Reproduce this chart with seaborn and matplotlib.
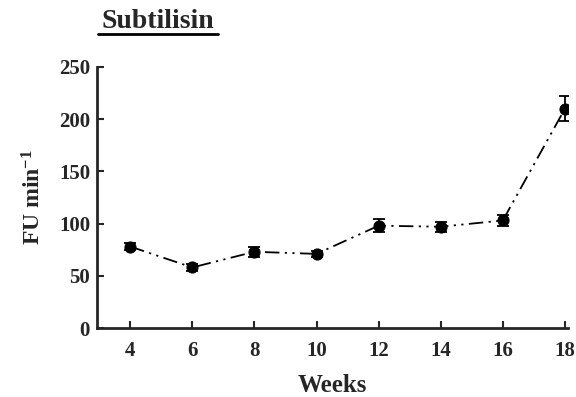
import numpy as np
import pandas as pd
import seaborn as sns
import matplotlib.pyplot as plt

# Data
weeks = [4, 6, 8, 10, 12, 14, 16, 18]
activity = [78, 58, 73, 71, 98, 97, 103, 210]
error = [3, 3, 5, 3, 6, 5, 5, 12]

df = pd.DataFrame({'Weeks': weeks, 'FU': activity, 'err': error})

sns.set_style('ticks')
plt.rcParams['font.family'] = ['Liberation Serif', 'DejaVu Serif']
plt.rcParams['font.weight'] = 'bold'
plt.rcParams['mathtext.fontset'] = 'custom'
plt.rcParams['mathtext.rm'] = 'Liberation Serif:bold'
plt.rcParams['mathtext.bf'] = 'Liberation Serif:bold'
plt.rcParams['mathtext.default'] = 'bf'

fig = plt.figure(figsize=(5.76, 3.97), dpi=100)
ax = fig.add_axes([97 / 576, 1 - 328 / 397, (568 - 97) / 576, (328 - 67) / 397])

sns.lineplot(x='Weeks', y='FU', data=df, ax=ax, color='black',
             linewidth=1.3, marker='o', markersize=8,
             markeredgecolor='black', dashes=False)
ax.lines[0].set_dashes([8, 3, 1.2, 3, 1.2, 3])
ax.errorbar(df['Weeks'], df['FU'], yerr=df['err'], fmt='none',
            ecolor='black', elinewidth=1.3, capsize=4, capthick=1.3)

ax.set_xlim(2.93, 18.1)
ax.set_ylim(0, 250)
ax.set_xticks(weeks)
ax.set_yticks([0, 50, 100, 150, 200, 250])
ax.tick_params(direction='in', length=5, width=1.5, labelsize=15)
ax.tick_params(axis='x', pad=9)
ax.tick_params(axis='y', pad=5)
for lab in ax.get_xticklabels() + ax.get_yticklabels():
    lab.set_fontweight('bold')
for side in ['top', 'right']:
    ax.spines[side].set_visible(False)
for side in ['left', 'bottom']:
    ax.spines[side].set_linewidth(2)

ax.set_xlabel('Weeks', fontsize=18, fontweight='bold', labelpad=10)
ax.set_ylabel('FU min$^{-1}$', fontsize=17, fontweight='bold', labelpad=10)

fig.text(158 / 576, 1 - 22 / 397, 'Subtilisin', fontsize=20, fontweight='bold',
         ha='center', va='center')
fig.add_artist(plt.Line2D([98 / 576, 218 / 576], [1 - 34 / 397, 1 - 34 / 397],
                          color='black', linewidth=2))

fig.savefig('out.png', dpi=100)
